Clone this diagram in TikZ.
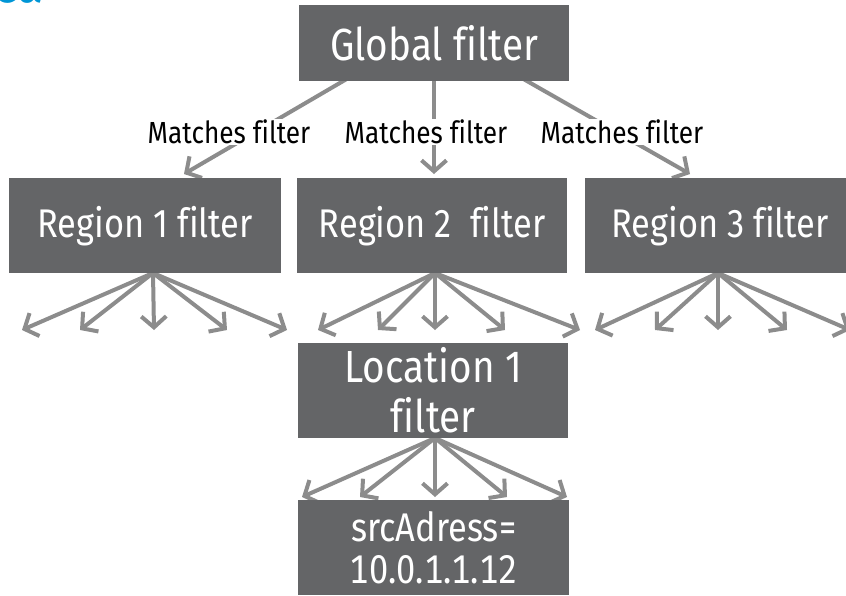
\documentclass[tikz,border=0pt]{standalone}
\usepackage{fontspec}
\setmainfont{Fira Sans}[FakeStretch=0.86, Ligatures=NoCommon]
\usetikzlibrary{arrows.meta,backgrounds}
\definecolor{boxgray}{HTML}{646567}
\definecolor{arrgray}{HTML}{8C8C8C}
\definecolor{hpblue}{HTML}{0096D6}
\begin{document}
\begin{tikzpicture}[x=1pt,y=-1pt,
  box/.style={fill=boxgray, text=white, inner sep=0pt, anchor=north west, align=center},
  arr/.style={draw=arrgray, line width=4pt, -{Straight Barb[length=11pt,width=25pt,line width=4pt]}},
  lbl/.style={fill=white, inner sep=1pt, text=black, font=\fontsize{30.5}{32}\selectfont},
  big/.style={font=\fontsize{45}{50}\selectfont},
  mid/.style={font=\fontsize{40}{42}\selectfont}
]
\useasboundingbox (0,0) rectangle (846,595);
\node[anchor=base west, text=hpblue, inner sep=0pt, font=\bfseries\fontsize{52}{52}\selectfont] (frag) at (-6,2.5) {ea};
\node[box, big, minimum width=270pt, minimum height=76pt] (g) at (299,5) {Global filter};
\node[box, mid, minimum width=272pt, minimum height=95pt] (r1) at (9,178) {Region 1 filter};
\node[box, mid, minimum width=270pt, minimum height=95pt] (r2) at (297,178) {Region 2\ \ filter};
\node[box, mid, minimum width=270pt, minimum height=95pt] (r3) at (585,178) {Region 3 filter};
\node[box, big, minimum width=270pt, minimum height=95pt] (loc) at (298,343) {Location 1\\filter};
\node[box, mid, minimum width=271pt, minimum height=95pt] (src) at (298,500) {srcAdress=\\[0pt]{\addfontfeatures{Numbers=Monospaced}10.0.1.1.12}};
\node[lbl] (m1) at (229,132) {Matches filter};
\node[lbl] (m2) at (426,132) {Matches filter};
\node[lbl] (m3) at (622,132) {Matches filter};
% global origin and targets
\coordinate (go) at (434,28);
\coordinate (t1) at (184,174);
\coordinate (t2) at (434,174);
\coordinate (t3) at (690,174);
% region apexes and tips
\coordinate (a1) at (153,273);
\coordinate (a2) at (435,273);
\coordinate (a3) at (718,273);
\foreach \n/\x in {1/22,2/80,3/154,4/227,5/287}{\coordinate (p1\n) at (\x,330);}
\foreach \n/\x in {1/318,2/378,3/435,4/505,5/580}{\coordinate (p2\n) at (\x,330);}
\foreach \n/\x in {1/595,2/655,3/718,4/787,5/850}{\coordinate (p3\n) at (\x,330);}
\coordinate (a4) at (435,438);
\foreach \n/\x in {1/302,2/360,3/435,4/507,5/567}{\coordinate (p4\n) at (\x,497);}
\begin{pgfonlayer}{background}
\foreach \t in {t1,t2,t3}{\draw[arr] (go) -- (\t);}
\foreach \r in {1,2,3,4}{\foreach \n in {1,...,5}{\draw[arr] (a\r) -- (p\r\n);}}
\end{pgfonlayer}
\end{tikzpicture}
\end{document}
